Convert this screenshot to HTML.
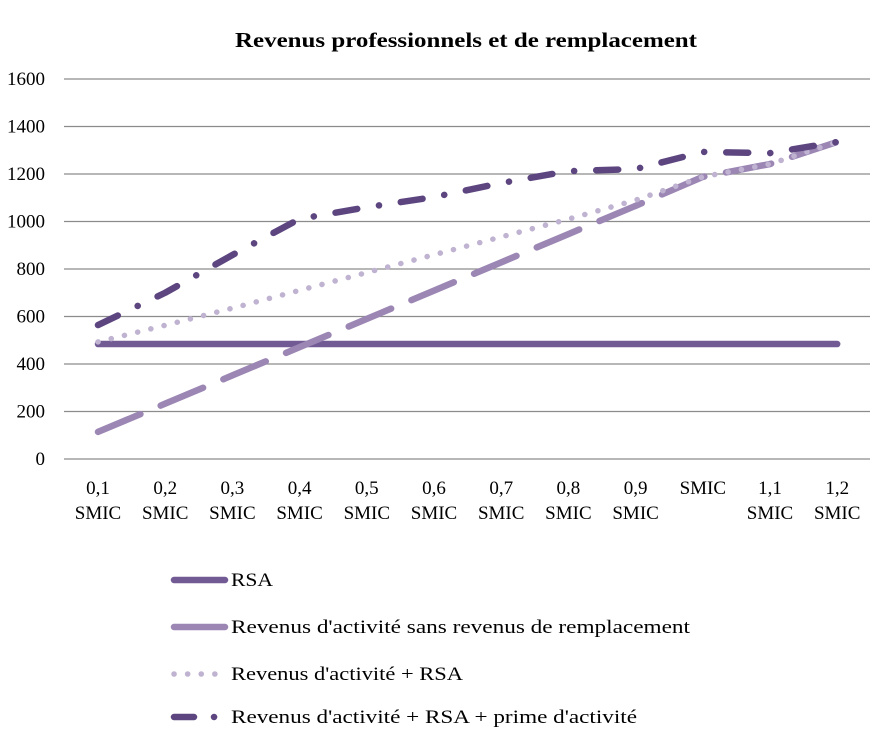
<!DOCTYPE html>
<html><head><meta charset="utf-8"><style>
body{margin:0;background:#fff}
text{font-family:"Liberation Serif",serif;fill:#000}
</style></head><body>
<svg id="c" width="877" height="740" xmlns="http://www.w3.org/2000/svg">
<text x="466" y="47" text-anchor="middle" font-size="21" font-weight="bold" textLength="462" lengthAdjust="spacingAndGlyphs">Revenus professionnels et de remplacement</text>
<g id="grid"></g><g id="yt"></g><g id="xt"></g><g id="series"></g><g id="legend"></g>
</svg>
<script>
const categories=["0,1 SMIC","0,2 SMIC","0,3 SMIC","0,4 SMIC","0,5 SMIC","0,6 SMIC","0,7 SMIC","0,8 SMIC","0,9 SMIC","SMIC","1,1 SMIC","1,2 SMIC"];
const yTicks=[0,200,400,600,800,1000,1200,1400,1600];
const rsa=[484,484,484,484,484,484,484,484,484,484,484,484];
const activite=[114,233,352,471,590,709,828,947,1066,1188,1242,1335];
const activiteRsa=[493,563,635,710,785,860,935,1010,1090,1188,1242,1335];
const activiteRsaPrime=[564,700,859,1011,1060,1103,1162,1212,1221,1293,1288,1335];
const NS="http://www.w3.org/2000/svg";
const x0=98,step=67.2,yBase=459,yScale=380/1600;
const xs=i=>x0+i*step, ys=v=>yBase-v*yScale;
function mk(tag,attrs,parent){const e=document.createElementNS(NS,tag);for(const k in attrs)e.setAttribute(k,attrs[k]);parent.appendChild(e);return e;}
const grid=document.getElementById('grid'),yt=document.getElementById('yt'),xt=document.getElementById('xt');
yTicks.forEach(t=>{
 const l=mk('line',{x1:64,x2:870,y1:ys(t),y2:ys(t),stroke:'#8c8c8c','stroke-width':1.3},grid);
 
 
 const tx=mk('text',{x:45,y:ys(t)+6,'text-anchor':'end','font-size':19},yt);
 tx.textContent=t;
 
 
});
categories.forEach((c,i)=>{
 const tx=mk('text',{x:xs(i),y:494,'text-anchor':'middle','font-size':19},xt);
 
 
 const parts=c.split(' ');
 parts.forEach((p,j)=>{const ts=mk('tspan',{x:xs(i),dy:j?25:0},tx);ts.textContent=p;});
});
const styles=[
 {d:rsa,c:'#725b94',dash:'',name:'RSA',w:42},
 {d:activite,c:'#9b86b4',dash:'46 22',name:"Revenus d'activité sans revenus de remplacement",w:459},
 {d:activiteRsa,c:'#bfb3d1',dash:'0.1 13.5',name:"Revenus d'activité + RSA",w:232},
 {d:activiteRsaPrime,c:'#5d4680',dash:'22 22 0.1 22',name:"Revenus d'activité + RSA + prime d'activité",w:406}
];
const series=document.getElementById('series'),legend=document.getElementById('legend');
const lys=[580,627,674,717];
styles.forEach((s,k)=>{
 const p=mk('polyline',{points:s.d.map((v,i)=>xs(i)+','+ys(v)).join(' '),fill:'none',stroke:s.c,'stroke-width':k==2?5.5:6.5,'stroke-linecap':'round','stroke-linejoin':'round','stroke-dasharray':s.dash},series);
 
 
 const g=mk('g',{},legend);
 
 
 mk('line',{x1:174,x2:225,y1:lys[k],y2:lys[k],stroke:s.c,'stroke-width':k==2?5.5:6.5,'stroke-linecap':'round','stroke-dasharray':k==1?'':(k==3?'20 20 0.1 20':s.dash)},g);
 const t=mk('text',{x:231,y:lys[k]+6,'font-size':19,textLength:s.w,lengthAdjust:'spacingAndGlyphs'},g);
 t.textContent=s.name;
});
</script>
</body></html>
